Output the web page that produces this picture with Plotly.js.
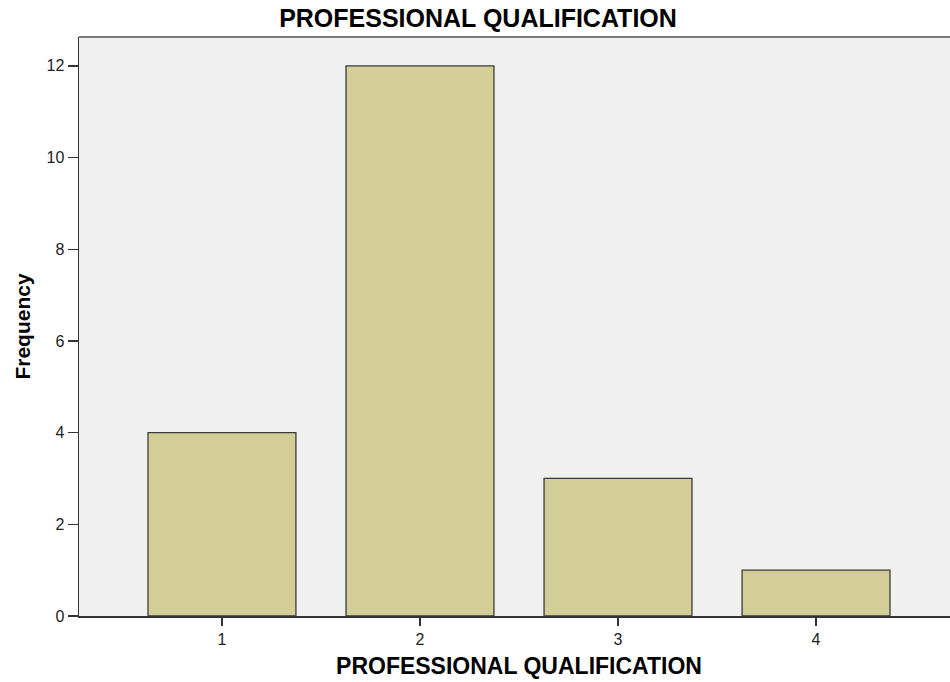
<!DOCTYPE html>
<html>
<head>
<meta charset="utf-8">
<script src="https://cdn.plot.ly/plotly-3.0.1.min.js"></script>
<style>
html,body{margin:0;padding:0;overflow:hidden;background:#fff;width:950px;height:682px;}
#chart{width:960px;height:682px;}
</style>
</head>
<body>
<div id="chart"></div>
<script>
var categories = [1, 2, 3, 4];
var frequencies = [4, 12, 3, 1];
var tickLabels = ['1', '2', '3', '4'];
var yTicks = [0, 2, 4, 6, 8, 10, 12];

var trace = {
  type: 'bar',
  x: categories,
  y: frequencies,
  width: 0.747,
  marker: {color: '#d3ce97', line: {color: '#3a3a3a', width: 1.3}},
  hoverinfo: 'none'
};

var layout = {
  width: 960,
  height: 682,
  margin: {l: 79, r: 1, t: 37, b: 66},
  paper_bgcolor: '#ffffff',
  plot_bgcolor: '#f0f0f0',
  showlegend: false,
  title: {
    text: '<b>PROFESSIONAL QUALIFICATION</b>',
    font: {family: 'Liberation Sans, Arial, sans-serif', size: 25, color: '#000'},
    xref: 'container', x: 478/960, xanchor: 'center',
    yref: 'container', y: 1 - 18/682, yanchor: 'middle'
  },
  xaxis: {
    range: [0.278, 4.722],
    tickmode: 'array',
    tickvals: categories,
    ticktext: tickLabels,
    ticks: 'outside', ticklen: 8, tickwidth: 1.5, tickcolor: '#333',
    showline: true, linecolor: '#333', linewidth: 1.5,
    showgrid: false, zeroline: false,
    tickfont: {family: 'Liberation Sans, Arial, sans-serif', size: 16, color: '#222'},
    title: {
      text: '<b>PROFESSIONAL QUALIFICATION</b>',
      font: {family: 'Liberation Sans, Arial, sans-serif', size: 23, color: '#000'},
      standoff: 11
    }
  },
  yaxis: {
    range: [0, 12.63],
    tickmode: 'array',
    tickvals: yTicks,
    ticks: 'outside', ticklen: 10, tickwidth: 1.5, tickcolor: '#333',
    showline: true, linecolor: '#333', linewidth: 1.5,
    showgrid: false, zeroline: false,
    tickfont: {family: 'Liberation Sans, Arial, sans-serif', size: 16, color: '#222'},
    title: {
      text: '<b>Frequency</b>',
      font: {family: 'Liberation Sans, Arial, sans-serif', size: 21, color: '#000'},
      standoff: 10
    }
  },
  shapes: [{
    type: 'line', xref: 'paper', yref: 'paper', x0: 0, x1: 1, y0: 1, y1: 1,
    line: {color: '#7a7a7a', width: 2}
  }]
};

Plotly.newPlot('chart', [trace], layout, {displayModeBar: false, staticPlot: true});
</script>
</body>
</html>
